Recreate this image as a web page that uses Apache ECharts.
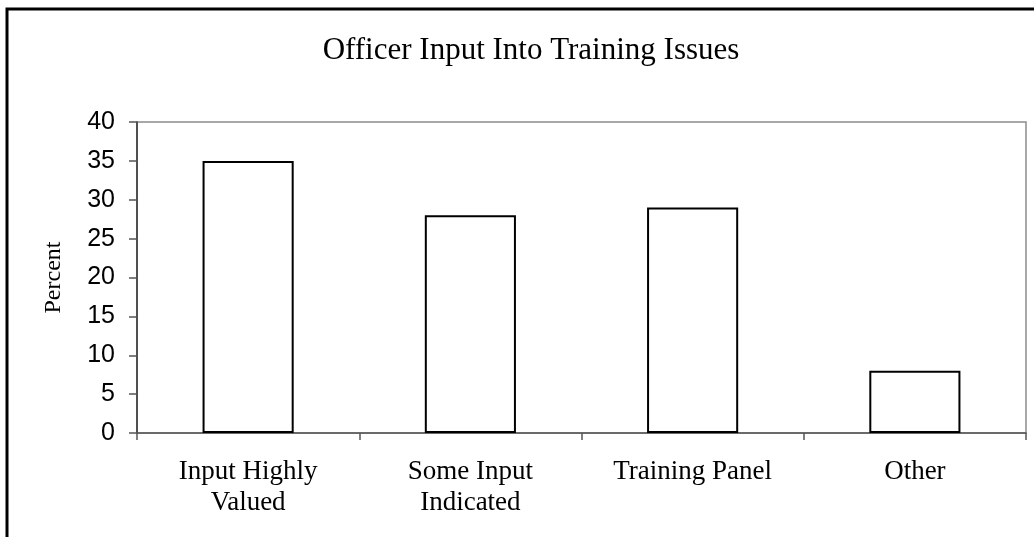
<!DOCTYPE html>
<html>
<head>
<meta charset="utf-8">
<script src="https://cdn.jsdelivr.net/npm/echarts@6/dist/echarts.min.js"></script>
<style>
  html, body { margin: 0; padding: 0; background: #fff; }
  #main { width: 1034px; height: 537px; }
</style>
</head>
<body>
<div id="main"></div>
<script>
var categories = ['Input Highly\nValued', 'Some Input\nIndicated', 'Training Panel', 'Other'];
var percents = [35, 28, 29, 8];
var yTicks = [0, 5, 10, 15, 20, 25, 30, 35, 40];

var chart = echarts.init(document.getElementById('main'), null, { renderer: 'canvas' });

var option = {
  backgroundColor: '#fff',
  animation: false,
  title: {
    text: 'Officer Input Into Training Issues',
    left: 526,
    textAlign: 'center',
    top: 30,
    textStyle: {
      fontFamily: 'Liberation Serif',
      fontSize: 31,
      fontWeight: 'normal',
      color: '#000'
    }
  },
  graphic: [
    {
      // outer frame, left and top edges only
      type: 'polyline',
      shape: { points: [[7, 537], [7, 9], [1034, 9]] },
      style: { stroke: '#000', lineWidth: 3, fill: null }
    }
  ],
  grid: {
    left: 137,
    right: 8,
    top: 122,
    bottom: 104,
    show: true,
    borderColor: '#8c8c8c',
    borderWidth: 1.5,
    backgroundColor: 'transparent'
  },
  xAxis: {
    type: 'category',
    data: categories,
    boundaryGap: true,
    axisLine: { lineStyle: { color: '#555', width: 1.5 } },
    axisTick: { show: true, alignWithLabel: false, length: 7, lineStyle: { color: '#555', width: 1.5 } },
    axisLabel: {
      margin: 23,
      interval: 0,
      fontFamily: 'Liberation Serif',
      fontSize: 27,
      lineHeight: 31,
      color: '#000'
    },
    splitLine: { show: false }
  },
  yAxis: {
    type: 'value',
    min: yTicks[0],
    max: yTicks[yTicks.length - 1],
    interval: 5,
    name: 'Percent',
    nameLocation: 'middle',
    nameGap: 71,
    nameTextStyle: {
      fontFamily: 'Liberation Serif',
      fontSize: 24,
      color: '#000'
    },
    axisLine: { show: true, lineStyle: { color: '#333', width: 1.5 } },
    axisTick: { show: true, length: 8, lineStyle: { color: '#555', width: 1.5 } },
    axisLabel: {
      margin: 22,
      fontFamily: 'Liberation Sans',
      fontSize: 25,
      color: '#000'
    },
    splitLine: { show: false }
  },
  series: [
    {
      type: 'bar',
      data: percents,
      barWidth: '41%',
      itemStyle: {
        color: '#fff',
        borderColor: '#000',
        borderWidth: 2
      }
    }
  ]
};

chart.setOption(option);
</script>
</body>
</html>
